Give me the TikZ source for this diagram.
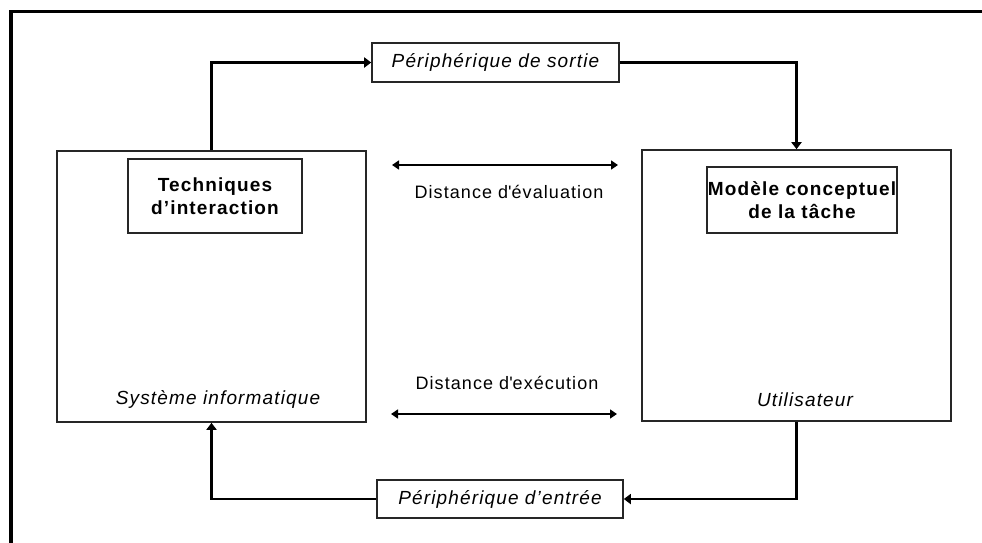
\documentclass[tikz,border=0pt]{standalone}
\usepackage{fontspec}
\setmainfont{Liberation Sans}[LetterSpace=6]
\usetikzlibrary{arrows.meta}
\begin{document}
\begin{tikzpicture}[x=1pt,y=-1pt,
  frame/.style={draw=black!85, line width=1.6pt, inner sep=0pt},
  inbox/.style={frame, align=center, font=\fontsize{19}{23}\selectfont\bfseries},
  device/.style={frame, font=\fontsize{19}{23}\selectfont\itshape},
  caption/.style={inner sep=0pt, font=\fontsize{19}{23}\selectfont\itshape},
  distlabel/.style={inner sep=0pt, font=\fontsize{18}{22}\selectfont},
  tip/.style={Triangle[length=7pt,width=10pt]},
  flow/.style={line width=2.6pt, -{Triangle[length=7pt,width=10pt]}},
  dist/.style={line width=1.6pt, {Triangle[length=7pt,width=9pt]}-{Triangle[length=7pt,width=9pt]}}]
  \useasboundingbox (0,0) rectangle (982,542);
  \fill[white] (0,0) rectangle (982,542);
  % outer frame (open to the right and bottom)
  \draw[line width=3.5pt] (11,560) -- (11,11.5) -- (1000,11.5);

  % main blocks
  \node[frame, minimum width=309pt, minimum height=271pt] (sys) at (211.5,286.5) {};
  \node[frame, minimum width=309pt, minimum height=271pt] (user) at (796.5,285.5) {};
  \node[inbox, minimum width=174pt, minimum height=74pt] (tech) at (215,196) {Techniques\\d’interaction};
  \node[inbox, minimum width=190pt, minimum height=66pt] (model) at (802,200) {Modèle conceptuel\\de la tâche};
  \node[caption] (syslabel) at (218,399) {Système informatique};
  \node[caption] (userlabel) at (805,400) {Utilisateur};

  % peripherals
  \node[device, minimum width=247pt, minimum height=39pt] (out) at (495.5,62.5) {Périphérique de sortie};
  \node[device, minimum width=246pt, minimum height=38pt] (in) at (500,499) {Périphérique d’entrée};

  % loop connectors
  \draw[flow] (sys.north) |- (out.west);
  \draw[flow] (out.east) -| (user.north);
  \draw[flow] (user.south) |- (in.east);
  \draw[flow] (in.west) -| (sys.south);

  % gulfs between user and system
  \coordinate (evalL) at (392,165);
  \coordinate (evalR) at (618,165);
  \coordinate (execL) at (391,414);
  \coordinate (execR) at (617,414);
  \draw[dist] (evalL) -- (evalR);
  \draw[dist] (execL) -- (execR);
  \node[distlabel] (evaltxt) at (509,192) {Distance d\textquotesingle évaluation};
  \node[distlabel] (exectxt) at (507,383) {Distance d\textquotesingle exécution};
\end{tikzpicture}
\end{document}
